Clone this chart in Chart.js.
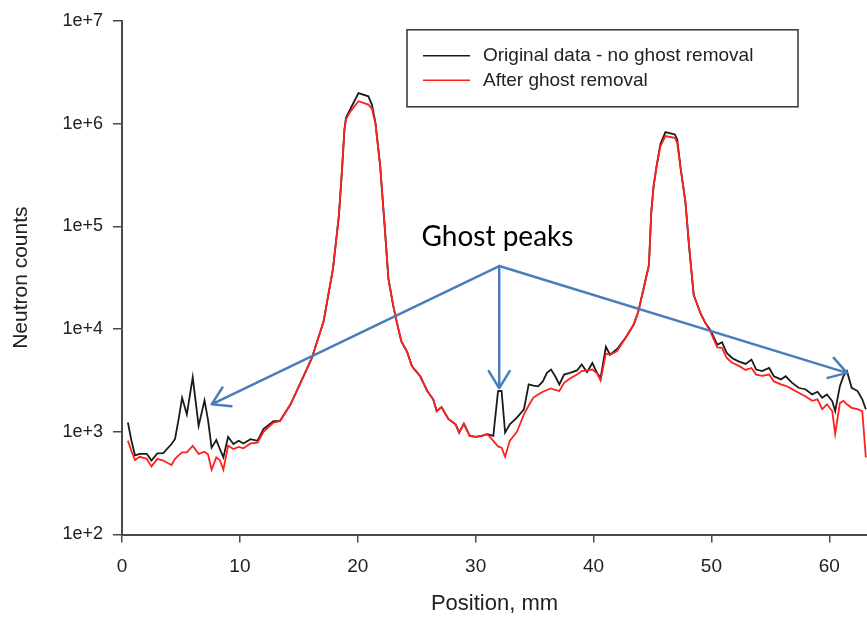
<!DOCTYPE html>
<html>
<head>
<meta charset="utf-8">
<script src="https://cdn.jsdelivr.net/npm/chart.js@4.4.1/dist/chart.umd.min.js"></script>
<style>
    html, body { margin: 0; padding: 0; background: #fff; }
    canvas { display: block; }
</style>
</head>
<body>
<canvas id="CHART" width="867" height="622"></canvas>
<script>
"use strict"

// detector position (mm) and neutron counts, with and without ghost removal
const positions = [
    0.5, 0.8, 1.1, 1.5, 2.1, 2.5, 3.0, 3.5, 4.2, 4.5, 4.8, 5.1, 5.5, 6.0, 6.5, 7.0, 7.3, 7.6, 8.0, 8.3,
    8.6, 9.0, 9.45, 9.9, 10.3, 10.9, 11.5, 12.0, 12.85, 13.4, 14.3, 15.2, 16.1, 17.1, 17.9, 18.4, 18.65, 18.87, 19.0, 19.35,
    20.06, 20.9, 21.2, 21.5, 21.9, 22.3, 22.6, 23.0, 23.3, 23.7, 24.17, 24.6, 25.3, 25.9, 26.4, 26.7, 27.1, 27.7, 28.3, 28.6,
    29.0, 29.5, 30.0, 30.5, 31.0, 31.5, 31.9, 32.2, 32.5, 32.9, 33.5, 34.1, 34.5, 34.9, 35.3, 35.7, 36.05, 36.4, 36.75, 37.1,
    37.5, 38.0, 38.6, 39.0, 39.45, 39.9, 40.3, 40.6, 41.05, 41.4, 42.0, 42.7, 43.4, 43.8, 44.25, 44.7, 44.9, 45.1, 45.33, 45.67,
    46.1, 46.9, 47.1, 47.4, 47.8, 48.1, 48.5, 49.1, 49.5, 49.9, 50.5, 50.9, 51.3, 51.75, 52.3, 52.9, 53.4, 53.8, 54.3, 54.9,
    55.3, 55.9, 56.3, 56.85, 57.4, 58.0, 58.55, 59.0, 59.4, 59.8, 60.25, 60.5, 60.9, 61.2, 61.5, 61.9, 62.4, 62.8, 63.1,
]
const original = [
    1230, 820, 590, 610, 610, 525, 615, 620, 760, 850, 1320, 2140, 1480, 3390, 1140, 2020, 1300, 700, 830, 680,
    563, 893, 758, 817, 770, 847, 817, 1060, 1270, 1270, 1850, 3090, 5200, 11800, 38700, 127000, 333000, 875000, 1140000, 1370000,
    1980000, 1840000, 1530000, 1020000, 387000, 94400, 30900, 17100, 11800, 7560, 6050, 4340, 3470, 2490, 2070, 1590, 1740, 1325, 1180, 982,
    1200, 912, 892, 912, 948, 912, 2490, 2500, 982, 1183, 1371, 1656, 2890, 2810, 2770, 3090, 3740, 4030, 3470, 2890,
    3600, 3740, 3950, 4510, 3800, 4670, 3740, 3340, 6700, 5620, 6400, 8150, 11000, 14800, 24800, 41800, 137000, 248000, 372000, 627000,
    826000, 783000, 700000, 359000, 171000, 65200, 21400, 14000, 11400, 9820, 7030, 7450, 5840, 5220, 4850, 4570, 5040, 4030, 3890, 4180,
    3470, 3230, 3470, 2990, 2680, 2580, 2310, 2450, 2140, 2310, 1990, 1590, 2780, 3470, 3890, 2680, 2490, 2070, 1656,
]
const corrected = [
    820, 650, 530, 570, 545, 460, 545, 525, 475, 545, 590, 630, 630, 730, 610, 640, 600, 427, 563, 531,
    427, 731, 679, 712, 690, 770, 785, 1000, 1230, 1270, 1850, 3090, 5200, 11800, 38700, 127000, 333000, 875000, 1100000, 1300000,
    1650000, 1530000, 1400000, 1000000, 387000, 94400, 30900, 17100, 11800, 7560, 6050, 4340, 3470, 2490, 2070, 1590, 1740, 1325, 1180, 982,
    1200, 912, 892, 912, 948, 816, 720, 700, 571, 820, 1000, 1480, 1800, 2150, 2310, 2450, 2550, 2640, 2550, 2490,
    2990, 3300, 3600, 3890, 3950, 4030, 3700, 3150, 5800, 5620, 6100, 8150, 11000, 14800, 24800, 41800, 137000, 248000, 372000, 600000,
    755000, 727000, 650000, 359000, 171000, 65200, 21400, 14000, 11400, 9500, 6620, 6550, 5220, 4700, 4400, 4000, 4180, 3600, 3500, 3600,
    3090, 2890, 2800, 2600, 2400, 2200, 2000, 2070, 1660, 1850, 1590, 950, 1900, 2000, 1850, 1710, 1660, 1590, 563,
]
const xTicks = [0, 10, 20, 30, 40, 50, 60]
const yTicks = [1e2, 1e3, 1e4, 1e5, 1e6, 1e7]

// arrows pointing from the caption to the three ghost peaks (mm, counts)
const ghostLabel = { x: 31.85, y: 78000 }
const ghostOrigin = { x: 32.0, y: 41000 }
const ghostTargets = [
    { x: 7.6, y: 1850 },
    { x: 32.0, y: 2660 },
    { x: 61.5, y: 3740 },
]

const AXIS = "#4a4a4a"
const ARROW = "#4a7ebb"

function drawArrow(ctx, x0, y0, x1, y1) {
    const a = Math.atan2(y1 - y0, x1 - x0)
    const len = 20, spread = 0.55
    ctx.beginPath()
    ctx.moveTo(x0, y0)
    ctx.lineTo(x1, y1)
    ctx.moveTo(x1 - len * Math.cos(a - spread), y1 - len * Math.sin(a - spread))
    ctx.lineTo(x1, y1)
    ctx.lineTo(x1 - len * Math.cos(a + spread), y1 - len * Math.sin(a + spread))
    ctx.stroke()
}

const ghostArrows = {
    id: "ghostArrows",
    afterDatasetsDraw(chart) {
        const { ctx, scales: { x, y } } = chart
        const ox = x.getPixelForValue(ghostOrigin.x), oy = y.getPixelForValue(ghostOrigin.y)
        ctx.save()
        ctx.strokeStyle = ARROW
        ctx.lineWidth = 2.5
        ctx.lineCap = "round"
        ctx.lineJoin = "round"
        ghostTargets.forEach(t => drawArrow(ctx, ox, oy, x.getPixelForValue(t.x), y.getPixelForValue(t.y)))
        ctx.fillStyle = "#000"
        ctx.font = "28px Lato"
        ctx.textAlign = "center"
        ctx.textBaseline = "middle"
        ctx.fillText("Ghost peaks", x.getPixelForValue(ghostLabel.x), y.getPixelForValue(ghostLabel.y))
        ctx.restore()
    }
}

// boxed legend sitting inside the plot area
const boxLegend = {
    id: "boxLegend",
    afterDraw(chart) {
        const { ctx, chartArea } = chart
        const left = chartArea.left + 285, top = chartArea.top + 9
        const w = 391, h = 77
        ctx.save()
        ctx.strokeStyle = "#333"
        ctx.lineWidth = 1.5
        ctx.fillStyle = "#fff"
        ctx.fillRect(left, top, w, h)
        ctx.strokeRect(left, top, w, h)
        ctx.font = "19px 'Liberation Sans', Arial, sans-serif"
        ctx.textBaseline = "middle"
        chart.data.datasets.forEach((ds, i) => {
            const yy = top + 26 + i * 24.5
            ctx.strokeStyle = ds.borderColor
            ctx.lineWidth = 1.5
            ctx.beginPath()
            ctx.moveTo(left + 16, yy)
            ctx.lineTo(left + 63, yy)
            ctx.stroke()
            ctx.fillStyle = "#222"
            ctx.fillText(ds.label, left + 76, yy)
        })
        ctx.restore()
    }
}

new Chart(CHART, {
    type: "scatter",
    data: {
        datasets: [
            {
                label: "Original data - no ghost removal",
                data: positions.map((p, i) => ({ x: p, y: original[i] })),
                borderColor: "#1a1a1a",
                borderWidth: 1.8,
                order: 1,
            },
            {
                label: "After ghost removal",
                data: positions.map((p, i) => ({ x: p, y: corrected[i] })),
                borderColor: "#ff2020",
                borderWidth: 1.8,
                order: 0,
            },
        ].map(ds => ({ ...ds, showLine: true, pointRadius: 0, tension: 0, fill: false })),
    },
    options: {
        animation: false,
        responsive: false,
        maintainAspectRatio: false,
        layout: { padding: { left: 9, top: 17, right: 0, bottom: 5 } },
        plugins: { legend: { display: false }, tooltip: { enabled: false } },
        scales: {
            x: {
                type: "linear",
                min: 0,
                max: 63.2,
                afterBuildTicks: axis => axis.ticks = xTicks.map(v => ({ value: v })),
                afterFit: axis => axis.height = 82.5,
                grid: { drawOnChartArea: false, tickLength: 8, color: AXIS, lineWidth: 1.5 },
                border: { color: AXIS, width: 2 },
                ticks: { color: "#222", padding: 13, maxRotation: 0, font: { family: "'Liberation Sans', Arial", size: 19 } },
                title: {
                    display: true, text: "Position, mm", color: "#222", padding: 0,
                    font: { family: "'Liberation Sans', Arial", size: 22 },
                },
            },
            y: {
                type: "logarithmic",
                min: 100,
                max: 1e7,
                afterBuildTicks: axis => axis.ticks = yTicks.map(v => ({ value: v })),
                afterFit: axis => axis.width = 113,
                grid: { drawOnChartArea: false, tickLength: 9, color: AXIS, lineWidth: 1.5 },
                border: { color: AXIS, width: 2 },
                ticks: {
                    color: "#222", padding: 10,
                    font: { family: "'Liberation Sans', Arial", size: 18 },
                    callback: v => "1e+" + Math.round(Math.log10(v)),
                },
                title: {
                    display: true, text: "Neutron counts", color: "#222", padding: 0,
                    font: { family: "'Liberation Sans', Arial", size: 21 },
                },
            },
        },
    },
    plugins: [ghostArrows, boxLegend],
})
</script>
</body>
</html>
